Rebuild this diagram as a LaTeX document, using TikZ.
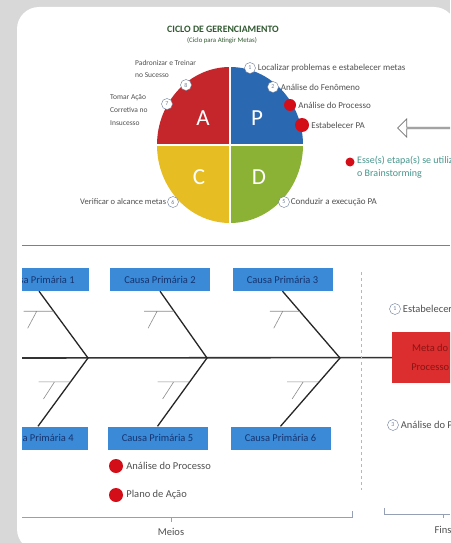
\documentclass[tikz,border=0pt]{standalone}
\usepackage{fontspec}
\setmainfont{Carlito}
\usetikzlibrary{positioning,shapes.arrows}
\definecolor{bggray}{RGB}{216,216,216}
\definecolor{piered}{RGB}{196,38,44}
\definecolor{pieblue}{RGB}{42,104,178}
\definecolor{pieyellow}{RGB}{230,190,36}
\definecolor{piegreen}{RGB}{139,178,52}
\definecolor{boxblue}{RGB}{58,138,215}
\definecolor{boxtext}{RGB}{22,52,112}
\definecolor{headred}{RGB}{220,46,46}
\definecolor{headtext}{RGB}{140,20,20}
\definecolor{dotred}{RGB}{212,14,24}
\definecolor{tealtext}{RGB}{70,150,140}
\definecolor{labelgray}{RGB}{80,80,80}
\definecolor{stepgray}{RGB}{110,125,155}
\definecolor{titlegreen}{RGB}{50,90,50}
\definecolor{dashgreen}{RGB}{185,195,120}
\definecolor{bracegray}{RGB}{150,160,180}

\begin{document}
\begin{tikzpicture}[x=1pt,y=1pt]
		\tikzstyle{stepnum}=[circle,draw=stepgray,fill=white,inner sep=0pt,minimum size=11pt,text=stepgray,font=\fontsize{6}{6}\selectfont]
		\tikzstyle{red-dot}=[circle,fill=dotred,inner sep=0pt,minimum size=12pt]
		\tikzstyle{lbl}=[inner sep=0pt,text=labelgray,font=\fontsize{7}{8}\selectfont]
		\tikzstyle{big-lbl}=[inner sep=0pt,text=labelgray,font=\fontsize{10.5}{12}\selectfont]
		\tikzstyle{quad-letter}=[text=white,font=\fontsize{23}{23}\selectfont]
		\tikzstyle{cause}=[fill=boxblue,text=boxtext,minimum width=100pt,minimum height=23pt,inner sep=0pt,font=\fontsize{10.5}{11}\selectfont]
		\tikzstyle{head}=[fill=headred,text=headtext,minimum width=76pt,minimum height=51pt,inner sep=0pt,align=center,font=\fontsize{10.5}{19}\selectfont]
		\tikzstyle{bone}=[black!85,line width=1.3pt]
		\tikzstyle{subbone}=[black!45,line width=0.6pt]
		\tikzstyle{brace}=[bracegray,line width=0.8pt]
		\useasboundingbox (0,0) rectangle (450,-543);
		\clip (0,0) rectangle (450,-543);
		% panel
		\fill [bggray] (0,0) rectangle (450,-543);
		\fill [white,rounded corners=22pt] (17,-7) rectangle (456,-551);
		% title
		\node [text=titlegreen,font=\bfseries\fontsize{9.8}{10}\selectfont] at (223,-29) (title) {CICLO DE GERENCIAMENTO};
		\node [text=titlegreen,font=\fontsize{6.8}{7}\selectfont] at (222,-41) (subtitle) {(Ciclo para Atingir Metas)};
		% PDCA circle
		\coordinate (pc) at (230,-145);
		\fill [piered] (pc) -- ++(-73,0) arc[start angle=180,end angle=90,x radius=73,y radius=78] -- cycle;
		\fill [pieblue] (pc) -- ++(0,78) arc[start angle=90,end angle=0,x radius=73,y radius=78] -- cycle;
		\fill [pieyellow] (pc) -- ++(0,-78) arc[start angle=270,end angle=180,x radius=73,y radius=78] -- cycle;
		\fill [piegreen] (pc) -- ++(73,0) arc[start angle=0,end angle=-90,x radius=73,y radius=78] -- cycle;
		\draw [white,line width=2pt] (230,-66) -- (230,-224) (156,-145) -- (304,-145);
		\node [quad-letter] at (203,-118) (qa) {A};
		\node [quad-letter] at (257,-118) (qp) {P};
		\node [quad-letter] at (199,-177) (qc) {C};
		\node [quad-letter] at (259,-177) (qd) {D};
		% steps
		\node [stepnum] at (250,-68) (s1) {1};
		\node [lbl,right=2pt of s1,font=\fontsize{9}{9}\selectfont] (l1) {Localizar problemas e estabelecer metas};
		\node [stepnum] at (273,-87) (s2) {2};
		\node [lbl,right=2pt of s2,font=\fontsize{9}{9}\selectfont] (l2) {Análise do Fenômeno};
		\node [red-dot] at (290,-105) (s3) {};
		\node [lbl,right=2pt of s3,font=\fontsize{9}{9}\selectfont] (l3) {Análise do Processo};
		\node [red-dot,minimum size=14pt] at (302,-125) (s4) {};
		\node [lbl,right=2pt of s4,font=\fontsize{9}{9}\selectfont] (l4) {Estabelecer PA};
		\node [stepnum] at (284,-202) (s5) {5};
		\node [lbl,right=1pt of s5,font=\fontsize{9}{9}\selectfont] (l5) {Conduzir a execução PA};
		\node [stepnum] at (173,-202) (s6) {6};
		\node [lbl,left=1pt of s6,font=\fontsize{8.5}{9}\selectfont] (l6) {Verificar o alcance metas};
		\node [stepnum] at (167,-104) (s7) {7};
		\node [lbl,align=left,anchor=north west,font=\fontsize{7.5}{13}\selectfont] at (110,-94) (l7) {Tomar Ação\\Corretiva no\\Insucesso};
		\node [stepnum] at (186,-85) (s8) {8};
		\node [lbl,align=left,anchor=north west,font=\fontsize{7.5}{12}\selectfont] at (135,-60) (l8) {Padronizar e Treinar\\no Sucesso};
		% back arrow and legend
		\node [single arrow,draw=black!55,line width=0.8pt,fill=white,shape border rotate=180,minimum width=18pt,single arrow head extend=5pt,minimum height=64pt,inner sep=0pt] at (430,-128) (back) {};
		\node [red-dot,minimum size=9pt] at (350,-162) (leg) {};
		\node [lbl,text=tealtext,align=left,anchor=north west,font=\fontsize{10}{13}\selectfont] at (357,-156) (legtxt) {Esse(s) etapa(s) se utiliza(m)\\o Brainstorming};
		% separator
		\draw [black!50,line width=0.9pt] (22,-245) -- (450,-245);
		% fishbone
		\begin{scope}
		\clip (22,-250) rectangle (450,-543);
		\node [cause] at (39,-279.5) (c1) {Causa Primária 1};
		\node [cause] at (160,-279.5) (c2) {Causa Primária 2};
		\node [cause] at (282.5,-279.5) (c3) {Causa Primária 3};
		\node [cause] at (38,-438) (c4) {Causa Primária 4};
		\node [cause] at (157.5,-438) (c5) {Causa Primária 5};
		\node [cause] at (280.5,-438) (c6) {Causa Primária 6};
		\node [head,anchor=west] at (392,-357.5) (meta) {Meta do\\Processo};
		\coordinate (tail) at (22,-358);
		\coordinate (j1) at (88,-358);
		\coordinate (j2) at (207,-358);
		\coordinate (j3) at (340,-358);
		\draw [black!80,line width=1.6pt] (tail) -- (meta);
		\draw [bone] (c1.south) -- (j1) -- (c4.north);
		\draw [bone] (c2.south) -- (j2) -- (c5.north);
		\draw [bone] (c3.south) -- (j3) -- (c6.north);
		% sub-causes
		\foreach \a/\b in {c1/j1,c2/j2,c3/j3} {
			\path (\a.south) -- (\b) coordinate[pos=0.3] (k);
			\draw [subbone] (k) -- ++(-30,0) (k) ++(-17,0) -- ++(-9,-17);
		}
		\foreach \a/\b in {j1/c4,j2/c5,j3/c6} {
			\path (\a) -- (\b.north) coordinate[pos=0.35] (k);
			\draw [subbone] (k) -- ++(-32,0) (k) ++(-16,0) -- ++(-11,-17);
		}
		% goal steps
		\draw [dashgreen,dashed,line width=0.9pt] (361,-272) -- (361,-490);
		\node [stepnum] at (395,-309) (r1) {1};
		\node [big-lbl,right=2pt of r1] (rl1) {Estabelecer a Meta};
		\node [stepnum] at (393,-425) (r3) {3};
		\node [big-lbl,right=2pt of r3] (rl3) {Análise do Processo};
		% legend
		\node [red-dot,minimum size=14pt] at (116,-466) (d1) {};
		\node [big-lbl,right=3pt of d1] (dl1) {Análise do Processo};
		\node [red-dot,minimum size=14pt] at (116,-495) (d2) {};
		\node [big-lbl,right=3pt of d2] (dl2) {Plano de Ação};
		% means and ends
		\draw [brace] (22,-517) -- (352,-517) -- (352,-511) (171,-517) -- (171,-522);
		\node [big-lbl] at (171,-532) (meios) {Meios};
		\draw [brace] (384,-508) -- (384,-514) -- (450,-514) (443,-514) -- (443,-518);
		\node [big-lbl] at (443,-530) (fins) {Fins};
		\end{scope}
	\end{tikzpicture}
\end{document}
